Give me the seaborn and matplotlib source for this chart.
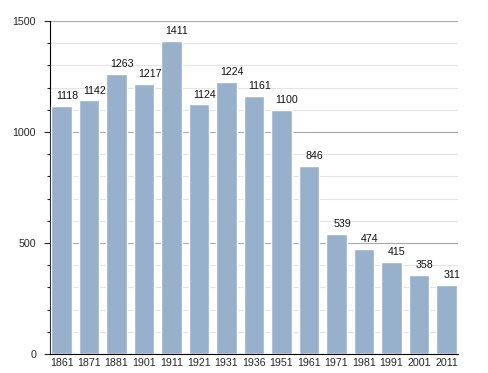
import matplotlib
matplotlib.use("Agg")
import matplotlib.pyplot as plt
import seaborn as sns
import pandas as pd
from matplotlib.ticker import MultipleLocator

years = ["1861", "1871", "1881", "1901", "1911", "1921", "1931", "1936",
         "1951", "1961", "1971", "1981", "1991", "2001", "2011"]
population = [1118, 1142, 1263, 1217, 1411, 1124, 1224, 1161,
              1100, 846, 539, 474, 415, 358, 311]

df = pd.DataFrame({"year": years, "pop": population})

sns.set_style("white")
plt.rcParams["font.family"] = ["Liberation Sans", "DejaVu Sans"]

fig = plt.figure(figsize=(4.88, 3.73), dpi=100)
ax = fig.add_axes([0.1025, 0.051, 0.836, 0.8927])

sns.barplot(data=df, x="year", y="pop", color="#97b0cb", saturation=1,
            width=0.75, ax=ax, zorder=3)

# value labels sit a little to the right of each bar centre
for i, v in enumerate(population):
    ax.text(i + 0.2, v + 22, str(v), ha="center", va="bottom",
            fontsize=7.7, color="#111111", zorder=4)

ax.set_ylim(0, 1500)
ax.set_xlim(-0.42, 14.42)
ax.yaxis.set_major_locator(MultipleLocator(500))
ax.yaxis.set_minor_locator(MultipleLocator(100))
ax.grid(axis="y", which="minor", color="#e4e4e4", linewidth=0.8, zorder=0)
ax.grid(axis="y", which="major", color="#a8a8a8", linewidth=0.8, zorder=1)
ax.set_axisbelow(True)

for s in ["top", "right"]:
    ax.spines[s].set_visible(False)
ax.spines["left"].set_color("black")
ax.spines["bottom"].set_color("black")

ax.tick_params(axis="y", which="major", length=4, width=0.8, labelsize=7.7, pad=6, left=True)
ax.tick_params(axis="y", which="minor", length=2.5, width=0.8, left=True)
ax.tick_params(axis="x", length=0, labelsize=7.7, pad=3)
ax.set_xlabel("")
ax.set_ylabel("")

fig.savefig("out.png", dpi=100)
